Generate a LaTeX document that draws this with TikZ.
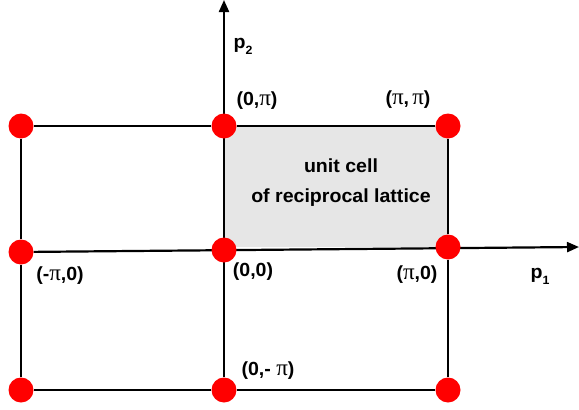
\documentclass[tikz,border=0pt]{standalone}
\usepackage{fontspec}
\setmainfont{Liberation Sans}[FakeStretch=1.03]
\newfontfamily\pifont{Liberation Serif}
\usepackage{tikz}
\usetikzlibrary{arrows.meta,backgrounds}
\definecolor{latticered}{HTML}{FF0000}
\definecolor{cellgray}{HTML}{E6E6E6}
\newcommand{\piglyph}{{\pifont\mdseries\fontsize{23}{20}\selectfont π}}
\newcommand{\sub}[1]{\raisebox{-0.6ex}{\fontsize{12}{12}\selectfont #1}}

\begin{document}
\begin{tikzpicture}[x=1pt,y=-1pt,font=\fontsize{19}{20}\selectfont\bfseries,
  site/.style={circle,fill=latticered,inner sep=0pt,minimum size=25pt},
  edge/.style={line width=2.2pt,black},
  axis/.style={edge,-{Triangle[length=12pt,width=10pt]}}]
\useasboundingbox (0,0) rectangle (579,410);
% lattice sites
\node[site] (mp) at (21,126) {};
\node[site] (zp) at (224,126) {};
\node[site] (pp) at (448,126) {};
\node[site] (mz) at (21,252) {};
\node[site] (zz) at (224,250) {};
\node[site] (pz) at (448,247) {};
\node[site] (mm) at (21,390) {};
\node[site] (zm) at (224,390) {};
\node[site] (pm) at (448,390) {};
\coordinate (p1end) at (579,247);
\coordinate (p2end) at (224,0);
\begin{scope}[on background layer]
  \fill[cellgray] (zp.center) rectangle (pz.center);
  \draw[edge] (mp) -- (zp) -- (pp) -- (pz) -- (pm) -- (zm) -- (mm) -- (mz) -- (mp);
  \draw[axis] (mz) -- (p1end);
  \draw[axis] (zm) -- (p2end);
\end{scope}
% labels
\node at (243,46) {p\sub{2}};
\node at (540,276) {p\sub{1}};
\node at (257,101) {(0,\piglyph)};
\node at (408,100) {(\piglyph,\,\piglyph)};
\node at (60,276) {(-\piglyph,0)};
\node at (253,272) {(0,0)};
\node at (417,275) {(\piglyph,0)};
\node at (268,371) {(0,- \piglyph)};
\node[align=center,font=\fontsize{19}{30}\selectfont\bfseries] at (341,183) {unit cell\\of reciprocal lattice};
\end{tikzpicture}
\end{document}
